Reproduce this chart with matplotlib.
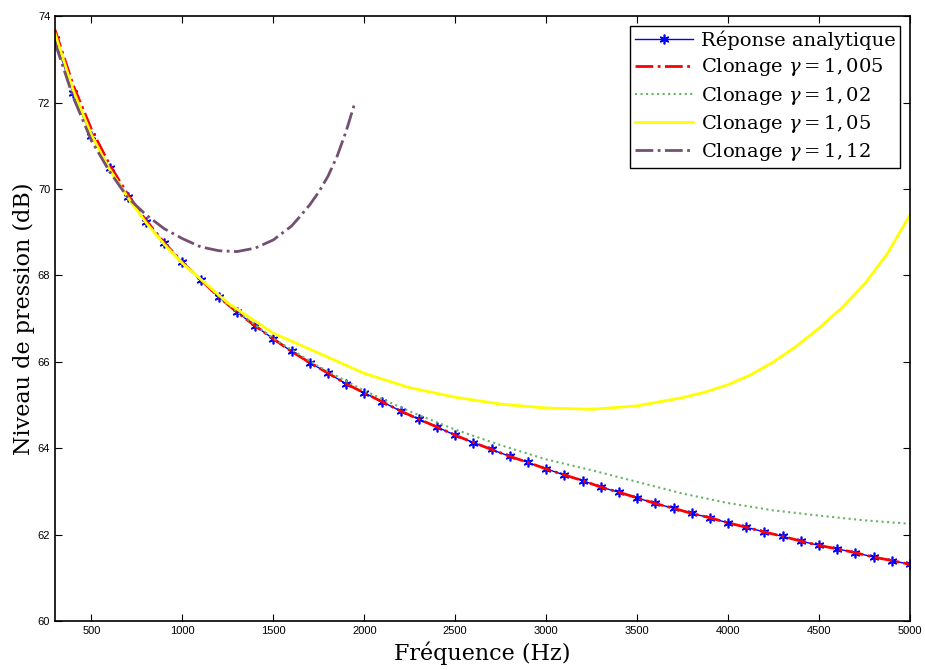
import matplotlib
matplotlib.use('Agg')
import matplotlib.pyplot as plt

# frequences (Hz) et niveaux (dB)
freq = [300, 400, 500, 600, 700, 800, 900, 1000, 1100, 1200, 1300, 1400, 1500,
        1600, 1700, 1800, 1900, 2000, 2100, 2200, 2300, 2400, 2500, 2600, 2700,
        2800, 2900, 3000, 3100, 3200, 3300, 3400, 3500, 3600, 3700, 3800, 3900,
        4000, 4100, 4200, 4300, 4400, 4500, 4600, 4700, 4800, 4900, 5000]
analytique = [73.48, 72.21, 71.23, 70.48, 69.82, 69.24, 68.74, 68.30, 67.90, 67.50,
              67.15, 66.83, 66.53, 66.24, 65.98, 65.74, 65.49, 65.28, 65.07, 64.86,
              64.67, 64.49, 64.30, 64.13, 63.97, 63.81, 63.67, 63.52, 63.38, 63.25,
              63.10, 62.98, 62.85, 62.72, 62.61, 62.49, 62.39, 62.27, 62.17, 62.06,
              61.96, 61.85, 61.75, 61.67, 61.58, 61.48, 61.40, 61.31]

# gamma = 1.005 : un peu au-dessus en basse frequence, puis confondu
clon_1005_bas = [73.68, 72.40, 71.38, 70.56, 69.87, 69.27, 68.76]
clon_1005 = clon_1005_bas + analytique[7:]

freq_g = [300, 400, 500, 600, 700, 800, 900, 1000, 1250, 1500, 1750, 2000, 2250,
          2500, 2750, 3000, 3250, 3500, 3750, 4000, 4250, 4500, 4750, 5000]
clon_102 = [73.50, 72.22, 71.23, 70.48, 69.82, 69.24, 68.74, 68.30, 67.32, 66.54,
            65.89, 65.33, 64.85, 64.43, 64.07, 63.74, 63.49, 63.22, 62.95, 62.73,
            62.56, 62.44, 62.33, 62.25]

freq_y = [300, 400, 500, 600, 700, 800, 900, 1000, 1250, 1500, 1750, 2000, 2250,
          2500, 2750, 3000, 3250, 3500, 3750, 3875, 4000, 4125, 4250, 4375, 4500,
          4625, 4750, 4875, 5000]
clon_105 = [73.60, 72.28, 71.25, 70.45, 69.80, 69.22, 68.72, 68.28, 67.36, 66.66,
            66.20, 65.73, 65.40, 65.18, 65.02, 64.93, 64.90, 64.98, 65.17, 65.30,
            65.47, 65.70, 66.00, 66.36, 66.78, 67.25, 67.80, 68.50, 69.40]

freq_p = [300, 400, 500, 600, 700, 800, 900, 1000, 1100, 1200, 1300, 1400, 1500,
          1600, 1650, 1700, 1750, 1800, 1850, 1900, 1950]
clon_112 = [73.38, 72.12, 71.12, 70.40, 69.80, 69.40, 69.08, 68.85, 68.66, 68.57,
            68.55, 68.63, 68.82, 69.14, 69.38, 69.63, 69.93, 70.29, 70.75, 71.33,
            72.02]

plt.rcParams['font.family'] = ['DejaVu Serif']
plt.rcParams['mathtext.fontset'] = 'dejavuserif'

fig = plt.figure(figsize=(9.25, 6.70), dpi=100)
ax = fig.add_axes([0.0595, 0.0731, 0.9243, 0.9029])

ax.plot(freq, analytique, '-', color='#0000ff', lw=1.0, marker=(6, 2, 0), ms=7,
        mew=1.2, label='Réponse analytique')
ax.plot(freq, clon_1005, '-.', color='#ff0000', lw=2.0, label=r'Clonage $\gamma = 1,005$')
ax.plot(freq_g, clon_102, ':', color='#66b366', lw=1.5, label=r'Clonage $\gamma = 1,02$')
ax.plot(freq_y, clon_105, '-', color='#ffff00', lw=2.0, label=r'Clonage $\gamma = 1,05$')
ax.plot(freq_p, clon_112, '-.', color='#735073', lw=2.0, label=r'Clonage $\gamma = 1,12$')

ax.set_xlim(300, 5000)
ax.set_ylim(60, 74)
ax.set_xticks(range(500, 5001, 500))
ax.set_yticks(range(60, 75, 2))
ax.tick_params(direction='in', length=5, width=0.8, top=True, right=True,
               labelsize=8)
for lab in ax.get_xticklabels() + ax.get_yticklabels():
    lab.set_family('Liberation Sans')
for s in ax.spines.values():
    s.set_linewidth(1.2)

ax.set_xlabel('Fréquence (Hz)', fontsize=16, labelpad=4)
ax.set_ylabel('Niveau de pression (dB)', fontsize=16, labelpad=2)

leg = ax.legend(loc='upper right', fontsize=14, fancybox=False, framealpha=1,
                edgecolor='black', borderpad=0.25, labelspacing=0.32,
                handlelength=3.0, handletextpad=0.4, borderaxespad=0.5)
leg.get_frame().set_linewidth(1.0)

fig.savefig('out.png', dpi=100)
